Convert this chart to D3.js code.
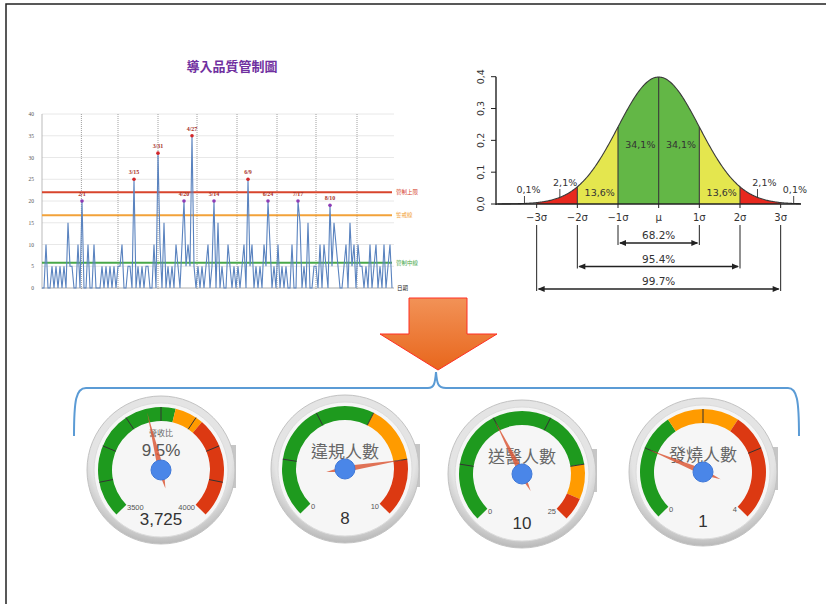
<!DOCTYPE html>
<html>
<head>
<meta charset="utf-8">
<script src="https://cdn.jsdelivr.net/npm/d3@7"></script>
<style>
body { margin: 0; background: #fff; }
svg { display: block; font-family: "DejaVu Sans", sans-serif; }
.cjk { font-family: "Noto Sans CJK TC", "Noto Sans CJK SC", sans-serif; }
</style>
</head>
<body>
<svg width="828" height="604"></svg>
<script>
// ---- control chart data (daily counts) ----
const dailyCounts = [
  0,0,10,0,0,5,0,5,0,5,
  0,5,0,15,5,5,0,0,10,0,
  20,0,0,10,0,0,10,0,0,0,
  5,0,5,0,5,0,5,0,5,5,
  10,0,0,5,5,0,25,0,5,0,
  5,0,5,5,0,0,10,0,31,10,
  0,15,0,5,0,5,0,10,5,0,
  10,20,5,10,5,35,5,0,5,0,
  5,0,5,10,0,5,20,0,15,0,
  5,0,0,10,5,0,5,0,5,0,
  5,10,0,25,5,10,0,5,0,5,
  0,10,5,20,10,0,5,0,10,0,
  5,0,5,0,0,10,0,0,20,15,
  0,5,0,15,0,0,5,5,0,10,
  0,10,5,0,19,5,15,10,5,0,
  0,5,10,0,15,5,10,0,10,5,
  5,0,5,0,10,0,5,10,0,5,
  0,10,0,5,10,0
];
const spikeIndex = [20, 46, 58, 71, 75, 86, 103, 113, 128, 144];
const spikeDates = ["2/1", "3/15", "3/31", "4/20", "4/27", "5/14", "6/9", "6/24", "7/17", "8/10"];
const limitNames = ["管制上限", "警戒線", "管制中線"];
const limitValues = [22, 16.7, 5.8];
const limitColors = ["#d8452c", "#f2a23a", "#4aa84a"];
const countTicks = [0, 5, 10, 15, 20, 25, 30, 35, 40];
const monthBreaks = [19.7, 38, 58, 77.5, 97.5, 117.5, 137, 157.5];

// ---- normal distribution ----
const sigmaTicks = [-3, -2, -1, 0, 1, 2, 3];
const sigmaLabels = ["−3σ", "−2σ", "−1σ", "μ", "1σ", "2σ", "3σ"];
const bandFrom = [-3, -2, -1, 1, 2];
const bandTo = [-2, -1, 1, 2, 3];
const bandColors = ["#e8281e", "#e4e64e", "#63b746", "#e4e64e", "#e8281e"];
const shareLabels = ["34,1%", "34,1%", "13,6%", "13,6%", "2,1%", "2,1%", "0,1%", "0,1%"];
const sharePos = [-0.45, 0.55, -1.45, 1.55, -2.3, 2.6, -3.2, 3.35];
const coverageK = [1, 2, 3];
const coverageLabels = ["68.2%", "95.4%", "99.7%"];
const densityTicks = [0, 0.1, 0.2, 0.3, 0.4];

// ---- gauges ----
const gaugeNames = ["營收比", "違規人數", "送醫人數", "發燒人數"];
const gaugeMin = [3500, 0, 0, 0];
const gaugeMax = [4000, 10, 25, 4];
const gaugeValues = [3725, 8, 10, 1];
const gaugeGreenTo = [3775, 6, 20, 1.5];
const gaugeYellowTo = [3825, 8, 23, 2.5];
const gaugeDivisions = [8, 5, 5, 4];
const revenueRatio = "9.5%";

const svg = d3.select("svg");

// slide frame
svg.append("path")
  .attr("d", "M6,604 L6,4 L826,4")
  .attr("fill", "none")
  .attr("stroke", "#222")
  .attr("stroke-width", 1.5);

// title
svg.append("text")
  .attr("class", "cjk")
  .attr("x", 232).attr("y", 71)
  .attr("text-anchor", "middle")
  .attr("font-size", 13).attr("font-weight", "bold")
  .attr("fill", "#7030a0")
  .text("導入品質管制圖");

// ================= control chart =================
const cx = d3.scaleLinear().domain([0, dailyCounts.length - 1]).range([42, 392]);
const cy = d3.scaleLinear().domain([0, 40]).range([288, 114]);
const cc = svg.append("g").attr("class", "control");

cc.selectAll("line.hgrid").data(countTicks).enter().append("line")
  .attr("class", "hgrid")
  .attr("x1", 42).attr("x2", 394)
  .attr("y1", d => cy(d)).attr("y2", d => cy(d))
  .attr("stroke", d => d === 0 ? "#999" : "#e2e2e2")
  .attr("stroke-width", 0.8);

cc.selectAll("line.vgrid").data(monthBreaks).enter().append("line")
  .attr("class", "vgrid")
  .attr("x1", d => cx(d)).attr("x2", d => cx(d))
  .attr("y1", 114).attr("y2", 290)
  .attr("stroke", "#888")
  .attr("stroke-width", 0.8)
  .attr("stroke-dasharray", "1,1");

cc.append("line")
  .attr("x1", 42).attr("x2", 42).attr("y1", 114).attr("y2", 289)
  .attr("stroke", "#aaa").attr("stroke-width", 0.8);

cc.selectAll("text.ytick").data(countTicks).enter().append("text")
  .attr("class", "ytick")
  .attr("x", 34).attr("y", d => cy(d) + 2)
  .attr("text-anchor", "end")
  .attr("font-family", "Liberation Serif, serif")
  .attr("font-size", 5.5)
  .attr("fill", "#555")
  .text(d => d);

// control limits
cc.selectAll("line.limit").data(limitValues).enter().append("line")
  .attr("class", "limit")
  .attr("x1", 42).attr("x2", 392)
  .attr("y1", d => cy(d)).attr("y2", d => cy(d))
  .attr("stroke", (d, i) => limitColors[i])
  .attr("stroke-width", 2);

cc.selectAll("text.limit").data(limitNames).enter().append("text")
  .attr("class", "limit cjk")
  .attr("x", 396).attr("y", (d, i) => cy(limitValues[i]) + 2)
  .attr("font-size", 5.5)
  .attr("fill", (d, i) => limitColors[i])
  .text(d => d);

cc.append("text")
  .attr("class", "cjk")
  .attr("x", 397).attr("y", 290)
  .attr("font-size", 5.5).attr("fill", "#222")
  .text("日期");

// the daily series
const lineGen = d3.line()
  .x((d, i) => cx(i))
  .y(d => cy(d));

cc.append("path")
  .datum(dailyCounts)
  .attr("d", lineGen)
  .attr("fill", "none")
  .attr("stroke", "#5a83bf")
  .attr("stroke-width", 1.1);

const spikes = cc.selectAll("g.spike").data(spikeIndex).enter().append("g")
  .attr("class", "spike")
  .attr("transform", d => `translate(${cx(d)}, ${cy(dailyCounts[d])})`);

spikes.append("circle")
  .attr("r", 1.8)
  .attr("fill", d => dailyCounts[d] > limitValues[0] ? "#d4262a" : "#8e3bb5");

spikes.append("text")
  .attr("y", -5)
  .attr("text-anchor", "middle")
  .attr("font-family", "Liberation Serif, serif")
  .attr("font-size", 6)
  .attr("font-weight", "bold")
  .attr("fill", "#a8322a")
  .text((d, i) => spikeDates[i]);

// ================= normal distribution =================
const nx = d3.scaleLinear().domain([-4, 3.5]).range([496, 801]);
const ny = d3.scaleLinear().domain([0, 0.4]).range([204, 76.7]);
const pdf = z => Math.exp(-z * z / 2) / Math.sqrt(2 * Math.PI);
const nd = svg.append("g").attr("class", "normal");

const areaGen = d3.area()
  .x(d => nx(d))
  .y0(ny(0))
  .y1(d => ny(pdf(d)));

nd.selectAll("path.band").data(bandFrom).enter().append("path")
  .attr("class", "band")
  .attr("d", (d, i) => areaGen(d3.range(d, bandTo[i] + 0.001, 0.02)))
  .attr("fill", (d, i) => bandColors[i]);

nd.selectAll("line.divider").data([-2, -1, 0, 1, 2]).enter().append("line")
  .attr("class", "divider")
  .attr("x1", d => nx(d)).attr("x2", d => nx(d))
  .attr("y1", ny(0)).attr("y2", d => ny(pdf(d)))
  .attr("stroke", "#3a3a3a").attr("stroke-width", 1.1);

nd.append("path")
  .datum(d3.range(-3.95, 3.5, 0.02))
  .attr("d", d3.line().x(d => nx(d)).y(d => ny(pdf(d))))
  .attr("fill", "none")
  .attr("stroke", "#3a3a3a")
  .attr("stroke-width", 1.1);

// axes
nd.append("line")
  .attr("x1", 496).attr("x2", 801).attr("y1", ny(0)).attr("y2", ny(0))
  .attr("stroke", "#222").attr("stroke-width", 1.4);
nd.append("line")
  .attr("x1", 496).attr("x2", 496).attr("y1", ny(0) + 1).attr("y2", ny(0.4))
  .attr("stroke", "#222").attr("stroke-width", 1.4);

nd.selectAll("line.ytick").data(densityTicks).enter().append("line")
  .attr("class", "ytick")
  .attr("x1", 491).attr("x2", 496)
  .attr("y1", d => ny(d)).attr("y2", d => ny(d))
  .attr("stroke", "#222");

nd.selectAll("text.ytick").data(densityTicks).enter().append("text")
  .attr("class", "ytick")
  .attr("transform", d => `translate(484, ${ny(d)}) rotate(-90)`)
  .attr("text-anchor", "middle")
  .attr("font-size", 9.5)
  .attr("fill", "#333")
  .text(d => d.toFixed(1).replace(".", ","));

nd.selectAll("line.xtick").data(sigmaTicks).enter().append("line")
  .attr("class", "xtick")
  .attr("x1", d => nx(d)).attr("x2", d => nx(d))
  .attr("y1", ny(0)).attr("y2", ny(0) + 4)
  .attr("stroke", "#222");

nd.selectAll("text.xtick").data(sigmaLabels).enter().append("text")
  .attr("class", "xtick")
  .attr("x", (d, i) => nx(sigmaTicks[i]))
  .attr("y", 221)
  .attr("text-anchor", "middle")
  .attr("font-size", 10)
  .attr("fill", "#333")
  .text(d => d);

// share labels
const shareY = [148, 148, 196, 196, 186, 186, 193, 193];
nd.selectAll("text.share").data(shareLabels).enter().append("text")
  .attr("class", "share")
  .attr("x", (d, i) => nx(sharePos[i]))
  .attr("y", (d, i) => shareY[i])
  .attr("text-anchor", "middle")
  .attr("font-size", 9.5)
  .attr("fill", "#333")
  .text(d => d);

// little leader ticks for the tail labels
const leaderAt = [-2.43, 2.43, -3.3, 3.32];
const leaderTop = [189, 189, 196, 196];
nd.selectAll("line.leader").data(leaderAt).enter().append("line")
  .attr("class", "leader")
  .attr("x1", d => nx(d)).attr("x2", d => nx(d))
  .attr("y1", (d, i) => leaderTop[i]).attr("y2", d => ny(pdf(d)))
  .attr("stroke", "#333").attr("stroke-width", 0.9);

// coverage brackets
const levelY = [243, 266.5, 289];
coverageK.forEach((k, i) => {
  const g = nd.append("g");
  [-k, k].forEach(s => {
    g.append("line")
      .attr("x1", nx(s)).attr("x2", nx(s))
      .attr("y1", 225).attr("y2", levelY[i] + 2)
      .attr("stroke", "#222").attr("stroke-width", 1);
  });
  g.append("line")
    .attr("x1", nx(-k) + 2).attr("x2", nx(k) - 2)
    .attr("y1", levelY[i]).attr("y2", levelY[i])
    .attr("stroke", "#222").attr("stroke-width", 1.3);
  const xl = nx(-k), xr = nx(k), y = levelY[i];
  g.append("path")
    .attr("d", `M${xl + 1},${y} L${xl + 8},${y - 3} L${xl + 8},${y + 3} Z M${xr - 1},${y} L${xr - 8},${y - 3} L${xr - 8},${y + 3} Z`)
    .attr("fill", "#222");
  g.append("text")
    .attr("x", nx(0)).attr("y", y - 4)
    .attr("text-anchor", "middle")
    .attr("font-size", 10.5)
    .attr("fill", "#333")
    .text(coverageLabels[i]);
});

// ================= arrow + bracket =================
const defs = svg.append("defs");
const grad = defs.append("linearGradient").attr("id", "arrowFill")
  .attr("x1", 0).attr("y1", 0).attr("x2", 0).attr("y2", 1);
grad.append("stop").attr("offset", "0%").attr("stop-color", "#f29257");
grad.append("stop").attr("offset", "100%").attr("stop-color", "#e8661c");

svg.append("path")
  .attr("d", "M409,298 L467,298 L467,334 L497,334 L438,370 L380,334 L409,334 Z")
  .attr("fill", "url(#arrowFill)")
  .attr("stroke", "#ff2f24")
  .attr("stroke-width", 1);

svg.append("path")
  .attr("d", "M74,436 C74,400 76,388 86,388 L428,388 C434,388 435,384 436,372 C437,384 438,388 446,388 L788,388 C797,388 799,400 799,436")
  .attr("fill", "none")
  .attr("stroke", "#5b9bd5")
  .attr("stroke-width", 2);

// ================= gauges =================
const gaugeX = [161, 345, 522, 703];
const gaugeY = [470, 469, 474, 472];
const deg = Math.PI / 180;

const bezelGrad = defs.append("radialGradient").attr("id", "bezel")
  .attr("cx", "50%").attr("cy", "40%").attr("r", "60%");
bezelGrad.append("stop").attr("offset", "80%").attr("stop-color", "#e4e4e4");
bezelGrad.append("stop").attr("offset", "100%").attr("stop-color", "#b8b8b8");

gaugeNames.forEach((name, i) => {
  const g = svg.append("g").attr("transform", `translate(${gaugeX[i]}, ${gaugeY[i]})`);
  const angle = d3.scaleLinear().domain([gaugeMin[i], gaugeMax[i]]).range([-135 * deg, 135 * deg]);
  const arc = d3.arc().innerRadius(49).outerRadius(63);

  // side tab + bezel + face
  g.append("rect").attr("x", 58).attr("y", -25).attr("width", 17).attr("height", 43)
    .attr("fill", "#c6c6c6");
  g.append("circle").attr("r", 74).attr("fill", "url(#bezel)").attr("stroke", "#c2c2c2");
  g.append("circle").attr("r", 67).attr("fill", "#f6f6f6").attr("stroke", "#dcdcdc");

  const segFrom = [gaugeMin[i], gaugeGreenTo[i], gaugeYellowTo[i]];
  const segTo = [gaugeGreenTo[i], gaugeYellowTo[i], gaugeMax[i]];
  const segColor = ["#1e9a1e", "#ff9b00", "#dc3912"];
  g.selectAll("path.seg").data(segFrom).enter().append("path")
    .attr("class", "seg")
    .attr("d", (d, j) => arc({ startAngle: angle(d), endAngle: angle(segTo[j]) }))
    .attr("fill", (d, j) => segColor[j]);

  const divs = d3.range(1, gaugeDivisions[i]).map(k => gaugeMin[i] + k * (gaugeMax[i] - gaugeMin[i]) / gaugeDivisions[i]);
  g.selectAll("line.tick").data(divs).enter().append("line")
    .attr("class", "tick")
    .attr("x1", d => 49 * Math.sin(angle(d))).attr("y1", d => -49 * Math.cos(angle(d)))
    .attr("x2", d => 63 * Math.sin(angle(d))).attr("y2", d => -63 * Math.cos(angle(d)))
    .attr("stroke", "#333").attr("stroke-width", 1);

  // min / max labels
  g.append("text").attr("x", -34).attr("y", 40)
    .attr("font-family", "Liberation Sans, Arial, sans-serif")
    .attr("font-size", 7.5).attr("fill", "#555")
    .text(gaugeMin[i]);
  g.append("text").attr("x", 34).attr("y", 40).attr("text-anchor", "end")
    .attr("font-family", "Liberation Sans, Arial, sans-serif")
    .attr("font-size", 7.5).attr("fill", "#555")
    .text(gaugeMax[i]);

  // labels
  if (i === 0) {
    g.append("text").attr("class", "cjk").attr("y", -34).attr("text-anchor", "middle")
      .attr("font-size", 8).attr("fill", "#666").text(name);
    g.append("text").attr("y", -14).attr("text-anchor", "middle")
      .attr("font-family", "Liberation Sans, Arial, sans-serif")
      .attr("font-size", 17).attr("fill", "#555")
      .text(revenueRatio);
  } else {
    g.append("text").attr("class", "cjk").attr("y", -11).attr("text-anchor", "middle")
      .attr("font-size", 17).attr("fill", "#666").text(name);
  }

  g.append("text").attr("y", 55).attr("text-anchor", "middle")
    .attr("font-family", "Liberation Sans, Arial, sans-serif")
    .attr("font-size", 17).attr("fill", "#333")
    .text(d3.format(",")(gaugeValues[i]));

  // needle + hub
  g.append("path")
    .attr("d", "M0,-59 L3,0 L0,19 L-3,0 Z")
    .attr("transform", `rotate(${angle(gaugeValues[i]) / deg})`)
    .attr("fill", "#dc5a3a").attr("fill-opacity", 0.85);
  g.append("circle").attr("r", 10).attr("fill", "#4a86e8").attr("stroke", "#3f78d8");
});
</script>
</body>
</html>
